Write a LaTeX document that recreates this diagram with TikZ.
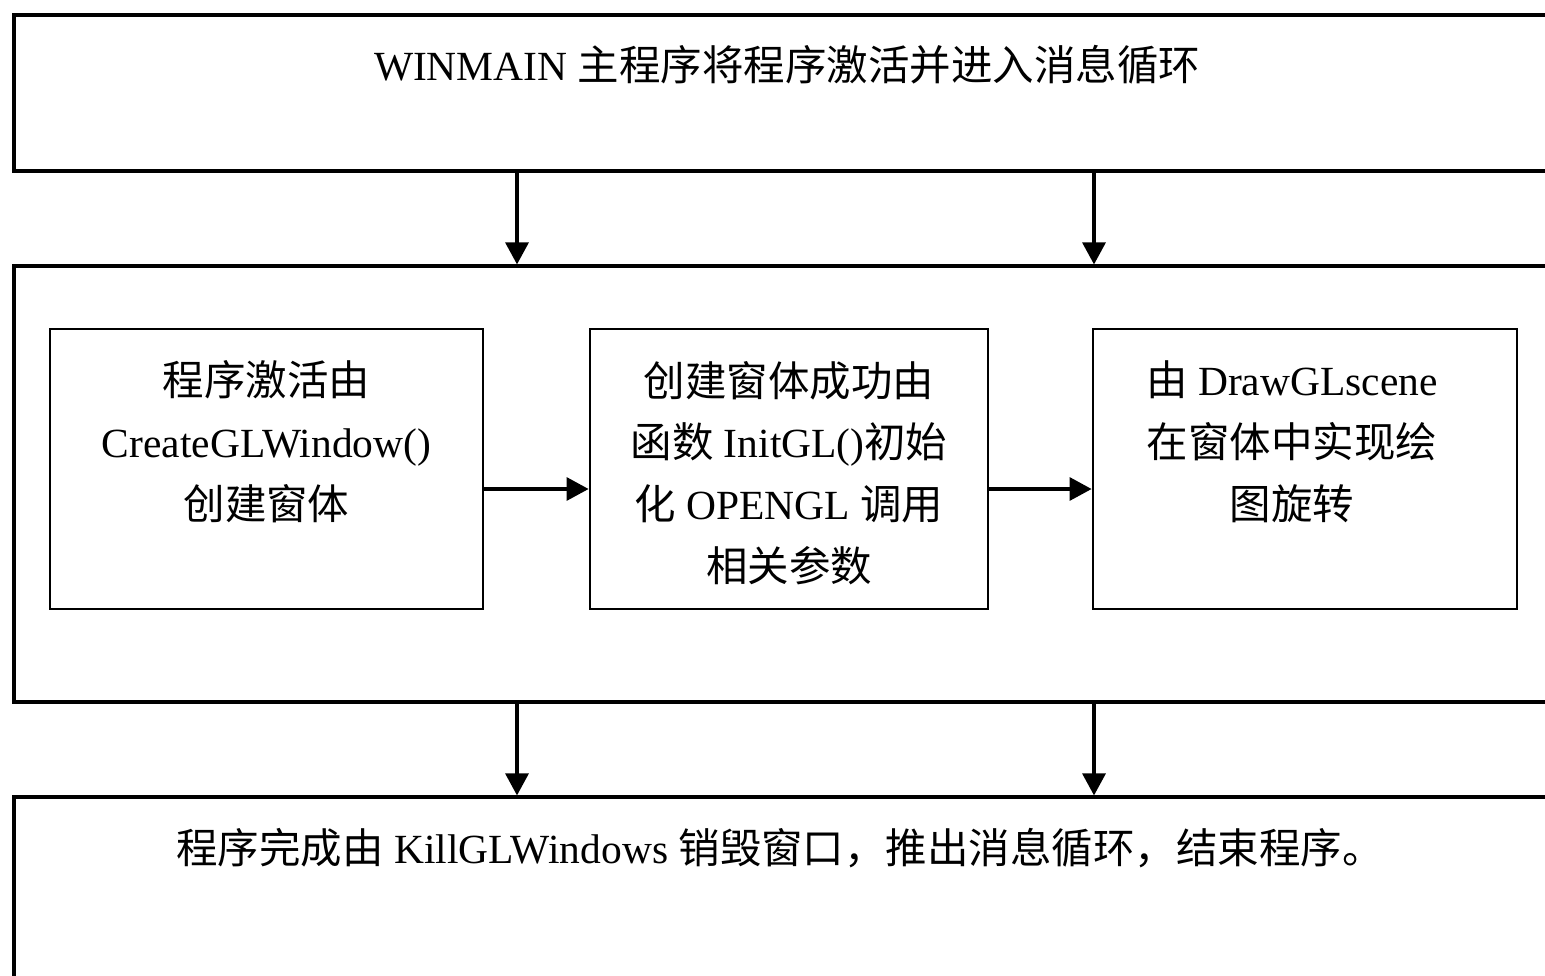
\documentclass[tikz,border=0pt]{standalone}
\usepackage{fontspec}
\setmainfont{Liberation Serif}
\newfontfamily\cjkfont{Noto Sans CJK SC}
\newcommand{\zh}[1]{{\cjkfont #1}}
\usetikzlibrary{arrows.meta}
\usetikzlibrary{positioning}

\begin{document}
\begin{tikzpicture}[
  bigbox/.style={draw=black,line width=0.9pt,rectangle,minimum width=15.66cm},
  stepbox/.style={draw=black,line width=0.8pt,rectangle,minimum height=2.8cm},
  txt/.style={font=\fontsize{11.8}{17.5}\selectfont,align=center,inner sep=0pt,anchor=base},
  arr/.style={line width=0.9pt,-{Triangle[length=2.2mm,width=2.3mm]}}]
\useasboundingbox (0,0) rectangle (15.45,9.75);
\clip (0,0) rectangle (15.45,9.75);
\fill[white] (0,0) rectangle (15.45,9.75);

% three stages, cut off at the right
\node[bigbox,minimum height=1.56cm] (top) at (7.97,8.82) {};
\node[bigbox,minimum height=4.36cm] (mid) at (7.97,4.91) {};
\node[bigbox,minimum height=2.28cm] (bot) at (7.97,0.64) {};

\node[txt] (toptxt) at (7.87,8.94) {WINMAIN \zh{主程序将程序激活并进入消息循环}};
\node[txt] (bottxt) at (7.80,1.12) {\zh{程序完成由} KillGLWindows \zh{销毁窗口，推出消息循环，结束程序。}};

% inner steps
\node[stepbox,minimum width=4.33cm] (b1) at (2.665,5.06) {};
\node[stepbox,minimum width=3.98cm] (b2) at (7.89,5.06) {};
\node[stepbox,minimum width=4.24cm] (b3) at (13.05,5.06) {};

% base = baseline of the last line
\node[txt] (t1) at (2.665,4.56) {\zh{程序激活由}\\CreateGLWindow()\\\zh{创建窗体}};
\node[txt] (t2) at (7.89,3.94) {\zh{创建窗体成功由}\\\zh{函数} InitGL()\zh{初始}\\\zh{化} OPENGL \zh{调用}\\\zh{相关参数}};
\node[txt] (t3) at (12.92,4.56) {\zh{由} DrawGLscene\\\zh{在窗体中实现绘}\\\zh{图旋转}};

\draw[arr] ([yshift=-2mm]b1.east) -- ([yshift=-2mm]b2.west);
\draw[arr] ([yshift=-2mm]b2.east) -- ([yshift=-2mm]b3.west);

% arrows between the stages
\coordinate (la) at (5.17,0);
\coordinate (ra) at (10.94,0);
\draw[arr] (top.south -| la) -- (mid.north -| la);
\draw[arr] (top.south -| ra) -- (mid.north -| ra);
\draw[arr] (mid.south -| la) -- (bot.north -| la);
\draw[arr] (mid.south -| ra) -- (bot.north -| ra);

\end{tikzpicture}
\end{document}
